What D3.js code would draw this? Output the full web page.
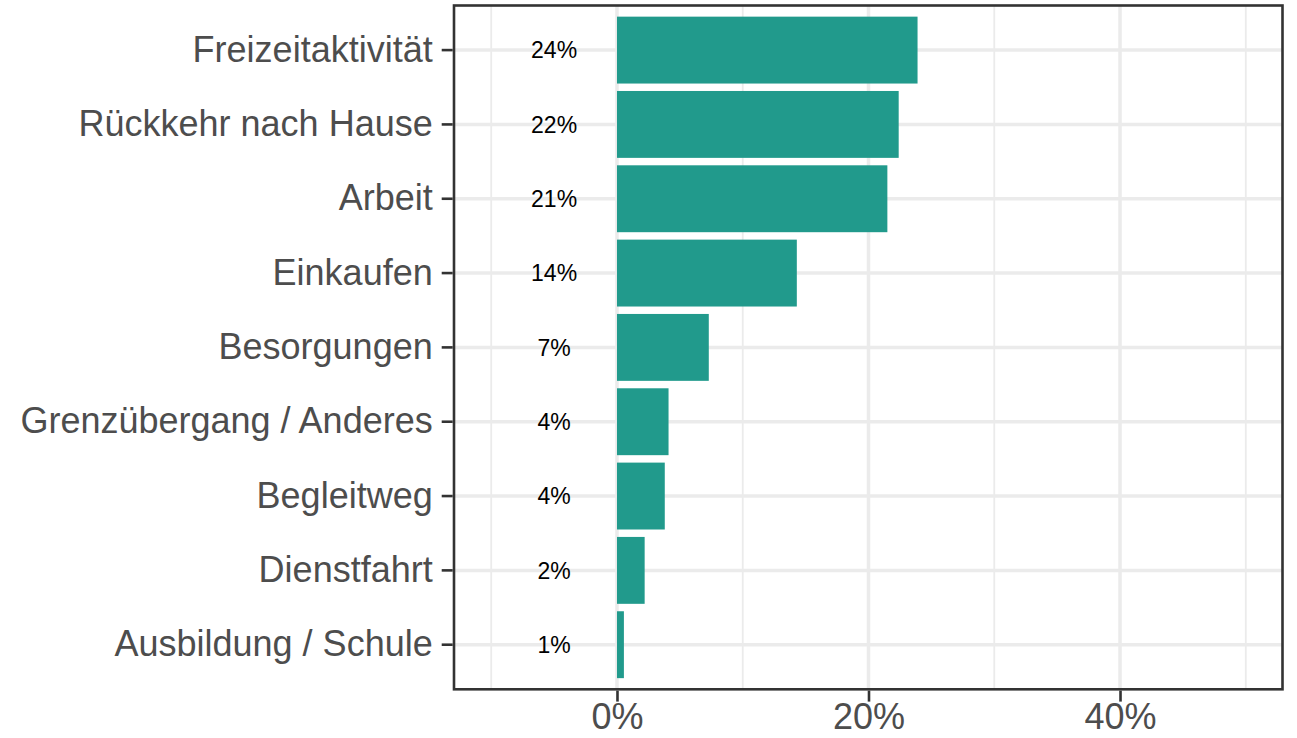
<!DOCTYPE html>
<html>
<head>
<meta charset="utf-8">
<script src="https://cdn.jsdelivr.net/npm/d3@7"></script>
<style>
  html, body { margin: 0; padding: 0; background: #fff; }
  svg { display: block; }
  text { font-family: "Liberation Sans", Arial, Helvetica, sans-serif; }
</style>
</head>
<body>
<svg id="chart" width="1297" height="738"></svg>
<script>
const categories = ["Freizeitaktivität", "Rückkehr nach Hause", "Arbeit", "Einkaufen", "Besorgungen",
  "Grenzübergang / Anderes", "Begleitweg", "Dienstfahrt", "Ausbildung / Schule"];
const shares = [23.9, 22.4, 21.5, 14.3, 7.3, 4.1, 3.8, 2.2, 0.55];
const shareLabels = ["24%", "22%", "21%", "14%", "7%", "4%", "4%", "2%", "1%"];
const labelPosition = -5;
const xMajorTicks = [0, 20, 40];
const xMinorTicks = [-10, 10, 30, 50];
const xDomain = [-12.96, 52.92];

const svg = d3.select("#chart");
const panel = { left: 454, right: 1282.5, top: 5.5, bottom: 689.3 };
const axisFont = 36;

const x = d3.scaleLinear().domain(xDomain).range([panel.left, panel.right]);
const y = d3.scaleBand().domain(categories).range([panel.top, panel.bottom])
  .paddingInner(0.1).paddingOuter(0.15);

const grid = svg.append("g");
grid.selectAll(".minor").data(xMinorTicks).enter().append("line")
  .attr("x1", d => x(d)).attr("x2", d => x(d))
  .attr("y1", panel.top).attr("y2", panel.bottom)
  .attr("stroke", "#EBEBEB").attr("stroke-width", 1.8);
grid.selectAll(".major").data(xMajorTicks).enter().append("line")
  .attr("x1", d => x(d)).attr("x2", d => x(d))
  .attr("y1", panel.top).attr("y2", panel.bottom)
  .attr("stroke", "#EBEBEB").attr("stroke-width", 3.5);
grid.selectAll(".hmajor").data(categories).enter().append("line")
  .attr("x1", panel.left).attr("x2", panel.right)
  .attr("y1", d => y(d) + y.bandwidth() / 2).attr("y2", d => y(d) + y.bandwidth() / 2)
  .attr("stroke", "#EBEBEB").attr("stroke-width", 3.5);

svg.append("g").selectAll("rect").data(categories).enter().append("rect")
  .attr("x", x(0))
  .attr("y", d => y(d))
  .attr("width", (d, i) => x(shares[i]) - x(0))
  .attr("height", y.bandwidth())
  .attr("fill", "#219A8C");

svg.append("g").selectAll("text").data(categories).enter().append("text")
  .attr("x", x(labelPosition))
  .attr("y", d => y(d) + y.bandwidth() / 2)
  .attr("dy", "0.36em")
  .attr("text-anchor", "middle")
  .attr("font-size", 23)
  .attr("fill", "#000")
  .text((d, i) => shareLabels[i]);

// panel border
svg.append("rect")
  .attr("x", panel.left).attr("y", panel.top)
  .attr("width", panel.right - panel.left).attr("height", panel.bottom - panel.top)
  .attr("fill", "none").attr("stroke", "#333333").attr("stroke-width", 2.6);

// y axis
const yAxis = d3.axisLeft(y).tickSize(11).tickPadding(9);
const gy = svg.append("g").attr("transform", `translate(${panel.left - 1.3},0)`).call(yAxis);
gy.select(".domain").remove();
gy.selectAll(".tick line").attr("stroke", "#333333").attr("stroke-width", 2.6);
gy.selectAll(".tick text").attr("font-size", axisFont).attr("fill", "#4D4D4D")
  .attr("font-family", "'Liberation Sans', Arial, Helvetica, sans-serif");

// x axis
const xAxis = d3.axisBottom(x).tickValues(xMajorTicks).tickFormat(d => d + "%").tickSize(11).tickPadding(2);
const gx = svg.append("g").attr("transform", `translate(0,${panel.bottom + 1.3})`).call(xAxis);
gx.select(".domain").remove();
gx.selectAll(".tick line").attr("stroke", "#333333").attr("stroke-width", 2.6);
gx.selectAll(".tick text").attr("font-size", axisFont).attr("fill", "#4D4D4D")
  .attr("font-family", "'Liberation Sans', Arial, Helvetica, sans-serif");
</script>
</body>
</html>
